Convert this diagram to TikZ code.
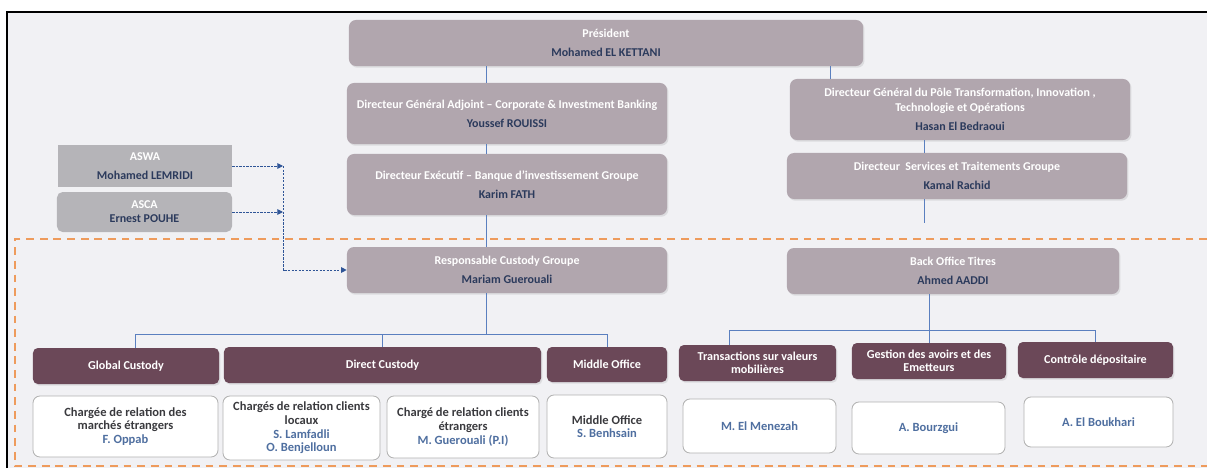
\documentclass[tikz,border=0pt]{standalone}
\usepackage{fontspec}
\setmainfont{Carlito}
\usepackage{tikz}
\usepackage{xcolor}
\usetikzlibrary{positioning, arrows.meta, shadows}

\definecolor{bgc}{HTML}{F1F1F4}
\definecolor{mauve}{HTML}{B1A6AE}
\definecolor{greyc}{HTML}{B5B4B8}
\definecolor{plum}{HTML}{6B4858}
\definecolor{namec}{HTML}{2B3A5C}
\definecolor{txtc}{HTML}{3A3A3E}
\definecolor{staffc}{HTML}{4F6FA0}
\definecolor{linkc}{HTML}{5A7FBF}
\definecolor{dashc}{HTML}{2F5597}
\definecolor{perim}{HTML}{EE9B5C}

\newcommand{\who}[1]{\\[2.5pt]\textcolor{namec}{#1}}
\newcommand{\staff}[1]{\textcolor{staffc}{#1}}

\tikzset{
    topbox/.style={rectangle, rounded corners=5pt, fill=mauve, text=white, align=center,
        font=\fontsize{8.5}{11}\selectfont\bfseries,
        drop shadow={opacity=0.18, shadow xshift=1pt, shadow yshift=-1.2pt}},
    greybox/.style={rectangle, fill=greyc, text=white, align=center,
        font=\fontsize{8.5}{10}\selectfont\bfseries},
    headbox/.style={rectangle, rounded corners=3.5pt, fill=plum, text=white, align=center,
        font=\fontsize{8.6}{9.6}\selectfont\bfseries,
        drop shadow={opacity=0.18, shadow xshift=1pt, shadow yshift=-1.2pt}},
    staffbox/.style={rectangle, rounded corners=5pt, fill=white, draw=black!30, line width=0.6pt,
        text=txtc, align=center, font=\fontsize{8.9}{9.7}\selectfont\bfseries},
    link/.style={draw=linkc, line width=0.6pt},
    dotlink/.style={draw=dashc, line width=0.7pt, dash pattern=on 1.6pt off 0.9pt, -{Triangle[length=4pt, width=4pt]}},
}

\begin{document}
\begin{tikzpicture}[x=0.025cm, y=-0.025cm]
    \useasboundingbox (0,0) rectangle (1207,468);
    \fill[bgc] (7,12) rectangle (1207,468);
    \draw[line width=1.3pt] (7,468) -- (7,12) -- (1207,12);
    \draw[perim, line width=1.4pt, dash pattern=on 5.5pt off 4.2pt] (1207,239) -- (15,239) -- (15,466) -- (1207,466);

    \node[topbox, minimum width=12.85cm, minimum height=1.15cm] (pres) at (606,43) {Président\who{Mohamed EL KETTANI}};
    \node[topbox, minimum width=8cm, minimum height=1.525cm] (dga) at (507,113.5) {Directeur Général Adjoint – Corporate \& Investment Banking\who{Youssef ROUISSI}};
    \node[topbox, minimum width=8cm, minimum height=1.525cm] (de) at (507,184.5) {Directeur Exécutif – Banque d’investissement Groupe\who{Karim FATH}};
    \node[topbox, minimum width=8cm, minimum height=1.15cm] (resp) at (507,270) {Responsable Custody Groupe\who{Mariam Guerouali}};
    \node[topbox, minimum width=8.5cm, minimum height=1.525cm] (dgp) at (960,109.5) {Directeur Général du Pôle Transformation, Innovation ,\\Technologie et Opérations\who{Hasan El Bedraoui}};
    \node[topbox, minimum width=8.5cm, minimum height=1.15cm] (dst) at (957,176) {Directeur~ Services et Traitements Groupe\who{Kamal Rachid}};
    \node[topbox, minimum width=8.3cm, minimum height=1.15cm] (bot) at (953,271) {Back Office Titres\who{Ahmed AADDI}};

    \node[greybox, minimum width=4.35cm, minimum height=1.05cm] (aswa) at (145,166) {ASWA\\[3pt]\textcolor{namec}{Mohamed LEMRIDI}};
    \node[greybox, rounded corners=4pt, minimum width=4.375cm, minimum height=1cm] (asca) at (144.5,212) {ASCA\\\textcolor{namec}{Ernest POUHE}};

    \node[headbox, minimum width=4.65cm, minimum height=0.9cm] (gc) at (126,366) {Global Custody};
    \node[headbox, minimum width=7.925cm, minimum height=0.9cm] (dc) at (382.5,365) {Direct Custody};
    \node[headbox, minimum width=3cm, minimum height=0.875cm] (mo) at (607,364.5) {Middle Office};
    \node[headbox, minimum width=3.925cm, minimum height=0.9cm] (tv) at (757.5,363) {Transactions sur valeurs\\mobilières};
    \node[headbox, minimum width=3.85cm, minimum height=0.9cm] (ga) at (929,361) {Gestion des avoirs et des\\Emetteurs};
    \node[headbox, minimum width=3.875cm, minimum height=0.9cm] (cd) at (1095.5,360) {Contrôle dépositaire};

    \node[staffbox, minimum width=4.625cm, minimum height=1.525cm] (s1) at (125.5,426.5) {Chargée de relation des\\marchés étrangers\\\staff{F. Oppab}};
    \node[staffbox, minimum width=3.925cm, minimum height=1.6cm] (s2) at (301.5,428) {Chargés de relation clients\\locaux\\\staff{S. Lamfadli}\\\staff{O. Benjelloun}};
    \node[staffbox, minimum width=3.8cm, minimum height=1.55cm] (s3) at (463,427) {Chargé de relation clients\\étrangers\\\staff{M. Guerouali (P.I)}};
    \node[staffbox, minimum width=3cm, minimum height=1.575cm] (s4) at (607,426.5) {Middle Office\\\staff{S. Benhsain}};
    \node[staffbox, minimum width=3.825cm, minimum height=1.35cm] (s5) at (759.5,426) {\staff{M. El Menezah}};
    \node[staffbox, minimum width=3.825cm, minimum height=1.3cm] (s6) at (928.5,428) {\staff{A. Bourzgui}};
    \node[staffbox, minimum width=3.725cm, minimum height=1.25cm] (s7) at (1098.5,422) {\staff{A. El Boukhari}};

    \coordinate (spine) at (486,0);
    \coordinate (spine2) at (830,0);
    \coordinate (spine3) at (924,0);
    \coordinate (stub) at (924,223);
    \coordinate (hub) at (283,0);
    \coordinate (bar) at (0,334);
    \coordinate (bar2) at (0,330);

    \draw[link] (pres.south -| spine) -- (dga.north -| spine);
    \draw[link] (dga.south -| spine) -- (de.north -| spine);
    \draw[link] (de.south -| spine) -- (resp.north -| spine);
    \draw[link] (pres.south -| spine2) -- (dgp.north -| spine2);
    \draw[link] (dgp.south -| spine3) -- (dst.north -| spine3);
    \draw[link] (dst.south -| stub) -- (stub);

    \draw[link] (resp.south -| spine) -- (bar -| spine);
    \draw[link] ([xshift=0.225cm]gc.north) |- (bar -| mo.north) -- (mo.north);
    \draw[link] (dc.north) -- (bar -| dc.north);
    \draw[link] (bot.south -| ga.north) -- (ga.north);
    \draw[link] ([xshift=-0.7cm]tv.north) |- (bar2 -| cd.north) -- (cd.north);

    \draw[dotlink] (aswa.east) -- (aswa.east -| hub);
    \draw[dotlink] (asca.east) -- (asca.east -| hub);
    \draw[dotlink] (aswa.east -| hub) |- (resp.west);
\end{tikzpicture}
\end{document}
